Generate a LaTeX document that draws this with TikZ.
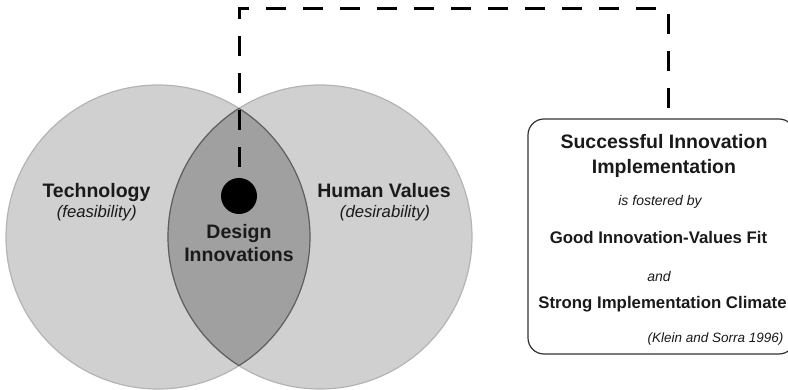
\documentclass[tikz,border=0pt]{standalone}
\usepackage{fontspec}
\setmainfont{Liberation Sans}
\usetikzlibrary{positioning}
\definecolor{vennfill}{HTML}{D0D0D0}
\definecolor{vennline}{HTML}{B4B4B4}
\definecolor{lensfill}{HTML}{A0A0A0}
\definecolor{lensline}{HTML}{5E5E5E}
\definecolor{boxline}{HTML}{333333}
\definecolor{ink}{HTML}{1A1A1A}
\begin{document}
\begin{tikzpicture}
      [
      x=1pt, y=-1pt,
      venn/.style={circle,draw=vennline,fill=vennfill,line width=1.2pt,inner sep=0pt,minimum size=304pt},
      heading/.style={anchor=base,text=ink,font=\fontsize{19.5}{22}\selectfont\bfseries},
      subhead/.style={anchor=base,text=ink,font=\fontsize{16.7}{19}\selectfont\itshape},
      bodybold/.style={anchor=base,text=ink,font=\fontsize{16.8}{19}\selectfont\bfseries},
      smallit/.style={anchor=base,text=ink,font=\fontsize{14}{16}\selectfont\itshape},
      link/.style={line width=3pt,dash pattern=on 20pt off 17pt,shorten <=11pt,shorten >=10pt}
      ]
      \useasboundingbox (0,0) rectangle (788,390);
      \node (tech) at (158,237) [venn] {};
      \node (human) at (320,237) [venn] {};
      % overlap of the two circles
      \begin{scope}
        \clip (tech.center) circle (152pt);
        \fill [lensfill] (human.center) circle (152pt);
        \draw [lensline, line width=1.2pt] (human.center) circle (152pt);
      \end{scope}
      \begin{scope}
        \clip (human.center) circle (152pt);
        \draw [lensline, line width=1.2pt] (tech.center) circle (152pt);
      \end{scope}
      \node (techname) at (96.5,198) [heading] {Technology};
      \node (techsub) at (96.7,218) [subhead] {(feasibility)};
      \node (humanname) at (384,198) [heading] {Human Values};
      \node (humansub) at (385,218) [subhead] {(desirability)};
      \node (design) at (239,239) [heading] {Design};
      \node (innov) at (239,262) [heading] {Innovations};
      \node (dot) at (239,196) [circle,fill=black,inner sep=0pt,minimum size=36pt] {};
      \node (box) at (661.5,236.5) [rectangle,draw=boxline,line width=1.2pt,rounded corners=16pt,minimum width=267pt,minimum height=235pt] {};
      \node (success) at (664,149) [heading] {Successful Innovation};
      \node (implement) at (664,174) [heading] {Implementation};
      \node (fostered) at (660,206) [smallit] {is fostered by};
      \node (fit) at (658.5,243.5) [bodybold] {Good Innovation-Values Fit};
      \node (and) at (659,282) [smallit] {and};
      \node (climate) at (662.5,309) [bodybold] {Strong Implementation Climate};
      \node (cite) at (787,343) [anchor=base east,text=ink,font=\fontsize{13.5}{16}\selectfont\itshape] {(Klein and Sorra 1996)};
      \coordinate (bend) at (668,9);
      \draw [link] (dot.north) |- (bend) -- ([xshift=6.5pt]box.north);
\end{tikzpicture}
\end{document}
